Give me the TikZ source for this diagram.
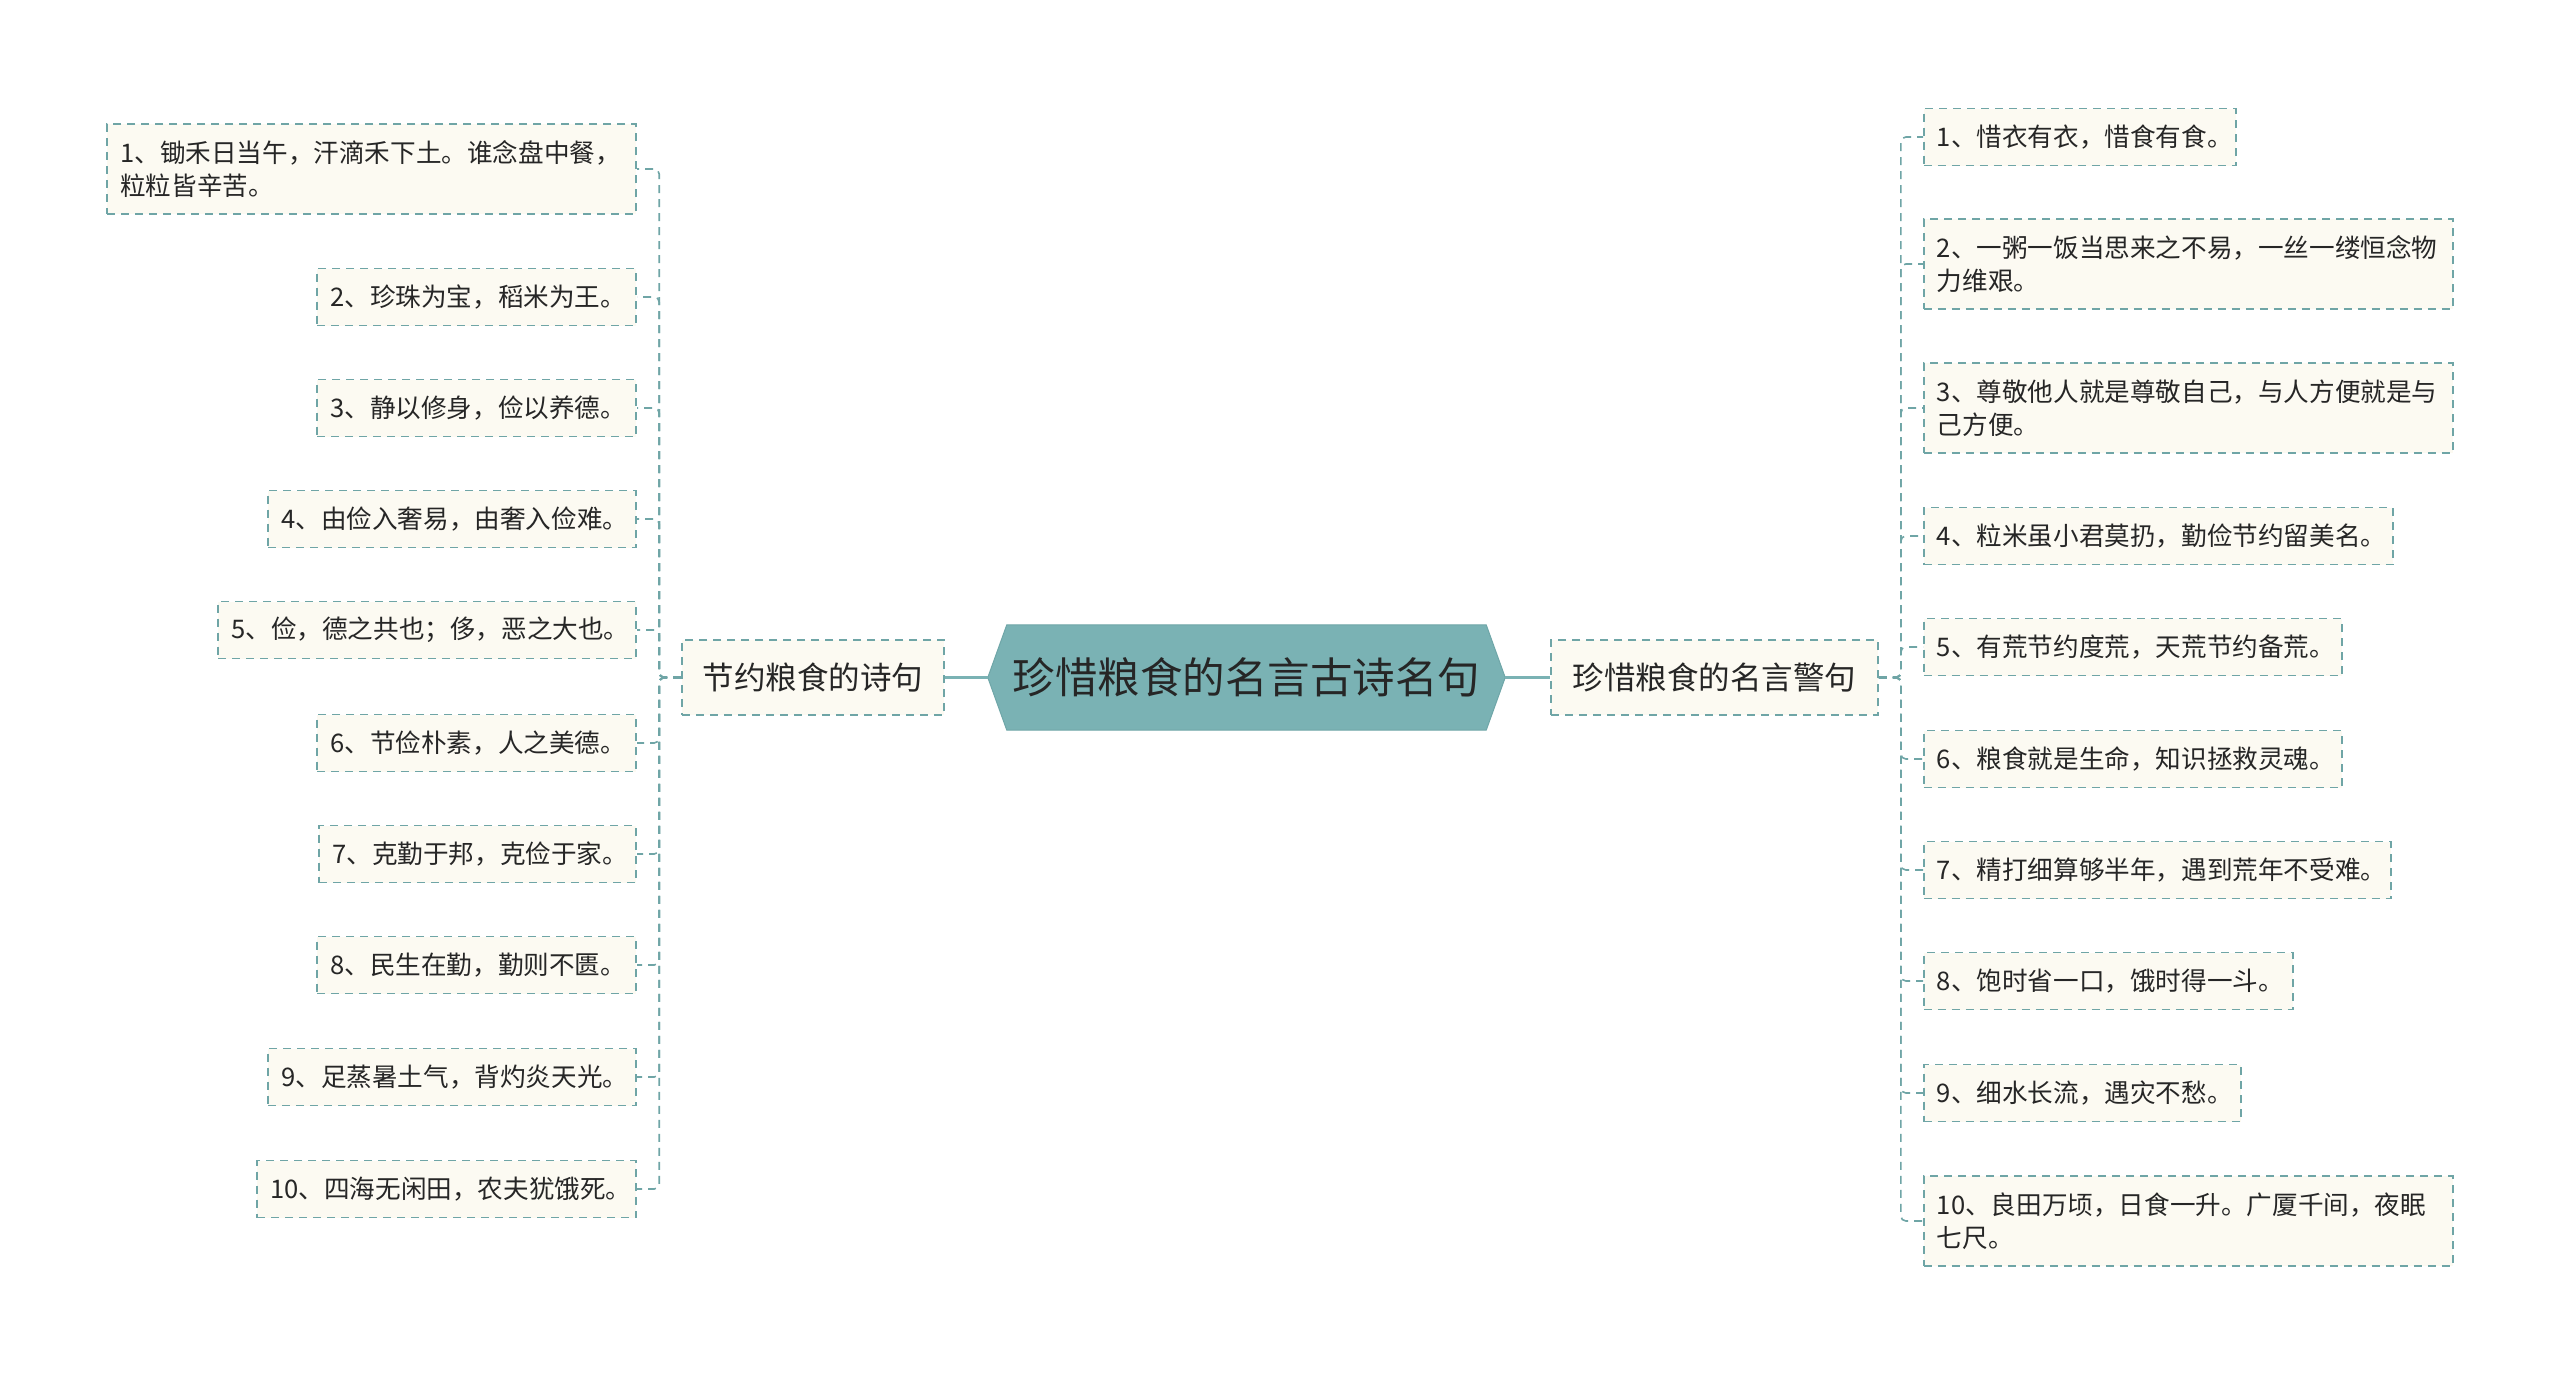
\documentclass[tikz,border=0pt]{standalone}
\usepackage{fontspec}
\newfontfamily\cjk{Noto Sans CJK SC}
\usetikzlibrary{backgrounds}
\definecolor{hexfill}{HTML}{7AB2B4}
\definecolor{hexline}{HTML}{6FA6A8}
\definecolor{dashc}{HTML}{6FA5A6}
\definecolor{cream}{HTML}{FCFAF2}
\definecolor{txt}{HTML}{262626}
\begin{document}
\begin{tikzpicture}[x=1pt,y=-1pt,
  leaf/.style={draw=dashc, fill=cream, line width=1.6pt, dash pattern=on 8pt off 6pt,
    font=\cjk\fontsize{25.6}{33}\selectfont, text=txt, inner xsep=13pt, inner ysep=0pt, align=left},
  single/.style={minimum height=57pt},
  double/.style={minimum height=90pt},
  midnode/.style={draw=dashc, fill=cream, line width=1.6pt, dash pattern=on 8pt off 6pt,
    font=\cjk\fontsize{31.5}{38}\selectfont, text=txt, inner xsep=0pt, inner ysep=0pt, minimum height=75pt},
  hexnode/.style={font=\cjk\fontsize{42.5}{50}\selectfont, text=txt, minimum width=517pt, minimum height=105pt, inner sep=0pt},
  solidc/.style={draw=hexfill, line width=3pt},
  tree/.style={draw=dashc, line width=1.6pt, dash pattern=on 8pt off 6pt, rounded corners=5pt}
]
\useasboundingbox (0,0) rectangle (2560,1373);
\begin{scope}[on background layer]
  \fill[white] (0,0) rectangle (2560,1373);
\end{scope}

% centre
\node[hexnode] (hex) at (1246.5,677.5) {珍惜粮食的名言古诗名句};
\begin{scope}[on background layer]
  \filldraw[fill=hexfill, draw=hexline, line width=1pt]
    (hex.west) -- ([xshift=19pt]hex.north west) -- ([xshift=-19pt]hex.north east) -- (hex.east)
    -- ([xshift=-19pt]hex.south east) -- ([xshift=19pt]hex.south west) -- cycle;
\end{scope}

% mid nodes
\node[midnode, minimum width=262pt] (lm) at (813,677.5) {节约粮食的诗句};
\node[midnode, minimum width=327pt] (rm) at (1714.5,677.5) {珍惜粮食的名言警句};
\draw[solidc] (hex.west) -- (lm.east);
\draw[solidc] (hex.east) -- (rm.west);

% left leaves
\node[leaf, double, text width=503pt, anchor=east] (l1) at (637,169) {1、锄禾日当午，汗滴禾下土。谁念盘中餐，\\粒粒皆辛苦。};
\node[leaf, single, text width=293pt, anchor=east] (l2) at (637,297) {2、珍珠为宝，稻米为王。};
\node[leaf, single, text width=293pt, anchor=east] (l3) at (637,408) {3、静以修身，俭以养德。};
\node[leaf, single, text width=342pt, anchor=east] (l4) at (637,519) {4、由俭入奢易，由奢入俭难。};
\node[leaf, single, text width=392pt, anchor=east] (l5) at (637,630) {5、俭，德之共也；侈，恶之大也。};
\node[leaf, single, text width=293pt, anchor=east] (l6) at (637,743) {6、节俭朴素，人之美德。};
\node[leaf, single, text width=291pt, anchor=east] (l7) at (637,854) {7、克勤于邦，克俭于家。};
\node[leaf, single, text width=293pt, anchor=east] (l8) at (637,965) {8、民生在勤，勤则不匮。};
\node[leaf, single, text width=342pt, anchor=east] (l9) at (637,1077) {9、足蒸暑土气，背灼炎天光。};
\node[leaf, single, text width=353pt, anchor=east] (l10) at (637,1189) {10、四海无闲田，农夫犹饿死。};

\foreach \n in {l1,l2,l3,l4,l5,l6,l7,l8,l9,l10}
  \draw[tree] (lm.west) -- ++(-22,0) |- (\n.east);

% right leaves
\node[leaf, single, text width=286pt, anchor=west] (r1) at (1923,137) {1、惜衣有衣，惜食有食。};
\node[leaf, double, text width=503pt, anchor=west] (r2) at (1923,264) {2、一粥一饭当思来之不易，一丝一缕恒念物\\力维艰。};
\node[leaf, double, text width=503pt, anchor=west] (r3) at (1923,408) {3、尊敬他人就是尊敬自己，与人方便就是与\\己方便。};
\node[leaf, single, text width=443pt, anchor=west] (r4) at (1923,536) {4、粒米虽小君莫扔，勤俭节约留美名。};
\node[leaf, single, text width=392pt, anchor=west] (r5) at (1923,647) {5、有荒节约度荒，天荒节约备荒。};
\node[leaf, single, text width=392pt, anchor=west] (r6) at (1923,759) {6、粮食就是生命，知识拯救灵魂。};
\node[leaf, single, text width=441pt, anchor=west] (r7) at (1923,870) {7、精打细算够半年，遇到荒年不受难。};
\node[leaf, single, text width=343pt, anchor=west] (r8) at (1923,981) {8、饱时省一口，饿时得一斗。};
\node[leaf, single, text width=291pt, anchor=west] (r9) at (1923,1093) {9、细水长流，遇灾不愁。};
\node[leaf, double, text width=503pt, anchor=west] (r10) at (1923,1221) {10、良田万顷，日食一升。广厦千间，夜眠\\七尺。};

\foreach \n in {r1,r2,r3,r4,r5,r6,r7,r8,r9,r10}
  \draw[tree] (rm.east) -- ++(22,0) |- (\n.west);
\end{tikzpicture}
\end{document}
